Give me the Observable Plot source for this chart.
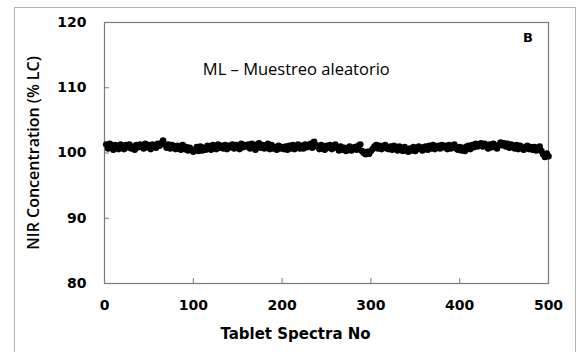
<!DOCTYPE html>
<html><head><meta charset="utf-8">
<script src="https://cdn.jsdelivr.net/npm/d3@7"></script>
<script src="https://cdn.jsdelivr.net/npm/@observablehq/plot@0.6"></script>
<style>
body{margin:0;background:#fff;}
#wrap{position:relative;width:576px;height:352px;overflow:hidden;background:#fff}
#border{position:absolute;left:14px;top:7px;width:560px;height:360px;border:1px solid #b5b5b5;pointer-events:none}
</style></head>
<body><div id="wrap"><div id="border"></div></div>
<script>
const xTicks = [0, 100, 200, 300, 400, 500];
const yTicks = [80, 90, 100, 110, 120];
const xTitle = "Tablet Spectra No";
const yTitle = "NIR Concentration (% LC)";
const noteLabel = [{x: 216, y: 112.7, text: "ML – Muestreo aleatorio"}];
const panelLabel = [{x: 477, y: 117.6, text: "B"}];
// NIR concentration, every 2nd tablet spectrum (2, 4, ..., 500)
const concentration = [
101.3,100.7,101.4,100.9,100.5,101.2,101.0,100.6,101.3,100.9,
100.6,101.2,100.9,101.3,100.7,101.0,100.5,101.2,100.9,101.3,
101.0,100.7,101.4,100.9,101.2,100.6,101.3,101.0,100.8,101.4,
101.1,101.5,101.9,101.3,100.8,101.3,100.7,101.2,101.0,100.6,
101.1,100.7,100.5,101.2,100.6,100.9,100.4,100.8,100.5,100.2,
100.5,100.9,100.3,101.0,100.4,100.8,100.5,101.1,100.8,100.5,
101.2,100.9,100.6,101.3,100.8,101.1,100.7,101.2,100.6,101.1,
100.9,101.3,100.7,101.2,101.0,100.6,101.4,100.9,101.2,101.0,
101.3,100.7,101.4,101.0,100.5,101.3,101.5,100.8,101.2,100.7,
101.0,101.4,100.6,101.2,100.7,100.9,100.5,101.1,100.7,100.9,
100.6,101.0,100.5,101.1,100.7,101.2,100.6,100.9,101.3,100.7,
101.1,100.7,101.3,100.9,101.2,101.4,100.8,101.7,101.2,101.0,
100.6,101.2,100.7,100.5,101.1,100.8,101.2,100.6,100.9,101.3,
100.8,100.4,101.0,100.5,100.8,100.3,100.7,101.0,100.4,100.7,
100.9,100.5,101.1,101.3,100.3,100.0,99.8,100.2,99.9,100.3,
100.6,101.0,101.2,100.7,101.1,100.6,100.9,101.2,100.7,100.6,
101.0,100.5,101.1,100.8,100.4,101.0,100.6,100.3,100.9,100.5,
100.2,100.7,100.4,100.9,100.3,100.6,101.0,100.7,100.4,100.9,
101.0,100.5,101.1,100.7,101.2,100.6,100.9,101.1,100.7,101.2,
100.9,101.1,100.6,101.2,100.7,100.9,101.3,100.7,100.5,100.9,
100.4,100.8,100.3,101.0,101.1,100.6,101.2,100.9,101.4,101.0,
101.3,101.5,101.0,101.4,101.1,100.7,101.3,100.9,101.4,101.0,
100.7,101.2,101.6,101.2,101.5,101.0,101.4,100.8,101.3,101.0,
100.7,101.2,100.6,101.1,100.9,100.5,100.8,101.1,100.6,100.9,
100.5,100.9,100.4,100.8,101.0,100.3,99.8,99.4,99.9,99.5
];
const spectraNo = concentration.map((_, i) => 2 * (i + 1));
const data = spectraNo.map((s, i) => ({s, c: concentration[i]}));

const chart = Plot.plot({
  width: 576, height: 352,
  marginLeft: 104, marginRight: 28, marginTop: 22, marginBottom: 69,
  style: {fontFamily: "DejaVu Sans", fontSize: "14px", color: "#000", background: "#fff"},
  x: {domain: [0, 500]},
  y: {domain: [80, 120]},
  marks: [
    Plot.frame({stroke: "#7a7a7a", strokeWidth: 1.2}),
    Plot.axisX(xTicks, {anchor: "bottom", tickSize: -5, tickPadding: 22, stroke: "#7a7a7a", fontWeight: "bold", fontSize: 14, label: null}),
    Plot.axisY(yTicks, {anchor: "left", tickSize: -5, tickPadding: 23, stroke: "#7a7a7a", fontWeight: "bold", fontSize: 14, label: null}),
    Plot.dot(data, {x: "s", y: "c", r: 3.3, fill: "#000", stroke: null}),
    Plot.text(noteLabel, {x: "x", y: "y", text: "text", fontFamily: "Open Sans", fontSize: 16.5, fill: "#000"}),
    Plot.text(panelLabel, {x: "x", y: "y", text: "text", fontFamily: "DejaVu Sans", fontWeight: "bold", fontSize: 13, fill: "#000"}),
    Plot.text([xTitle], {frameAnchor: "bottom", dx: -31, dy: 55, fontFamily: "DejaVu Sans", fontWeight: "bold", fontSize: 15, fill: "#000"}),
    Plot.text([yTitle], {frameAnchor: "left", textAnchor: "middle", rotate: -90, dx: -71, fontFamily: "Open Sans", fontWeight: 600, fontSize: 16, fill: "#000"})
  ]
});
document.getElementById("wrap").prepend(chart);
</script>
</body></html>
